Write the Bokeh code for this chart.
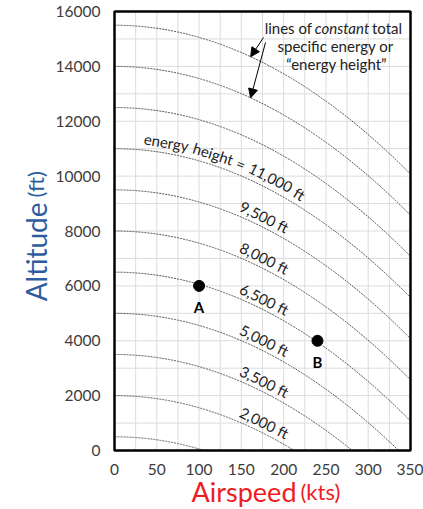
import numpy as np
from bokeh.plotting import figure
from bokeh.models import Label, Arrow, NormalHead, FixedTicker, Range1d, LinearAxis
from bokeh.embed import file_html
from bokeh.resources import INLINE
from bokeh.core.properties import value

# ---------------- data ----------------
energy_heights = [500, 2000, 3500, 5000, 6500, 8000, 9500, 11000, 12500, 14000, 15500]  # ft
airspeed_ticks = [0, 50, 100, 150, 200, 250, 300, 350]
altitude_ticks = [0, 2000, 4000, 6000, 8000, 10000, 12000, 14000, 16000]
airspeed_grid = list(range(0, 351, 25))
altitude_grid = list(range(0, 16001, 1000))
point_names = ["A", "B"]
point_airspeed = [100, 240]
point_altitude = [6000, 4000]
label_heights = [2000, 3500, 5000, 6500, 8000, 9500]
label_texts = ["2,000 ft", "3,500 ft", "5,000 ft", "6,500 ft", "8,000 ft", "9,500 ft"]
label_airspeed = 172
long_label_height = 11000
long_label_words = ["energy", "height", "=", "11,000", "ft"]
note_lines = ["lines of", "constant", "total", "specific energy or", "\u201cenergy height\u201d"]
arrow_target_heights = [15500, 14000]

KT_TO_FPS = 1.68781
G = 32.174
X_MAX, Y_MAX = 350, 16000


def altitude(E, v):
    return E - (np.asarray(v) * KT_TO_FPS) ** 2 / (2 * G)


# ---------------- layout (pixels) ----------------
W, H = 423, 509
BOX_L, BOX_R, BOX_T, BOX_B = 114, 410, 11, 450
ppk = (BOX_R - BOX_L) / X_MAX
ppf = (BOX_B - BOX_T) / Y_MAX


def dx(px):
    return (px - BOX_L) / ppk


def dy(py):
    return (BOX_B - py) / ppf


p = figure(width=W, height=H,
           x_range=Range1d(dx(0), dx(W)), y_range=Range1d(dy(H), dy(0)),
           x_axis_location=None, y_axis_location=None,
           output_backend="svg", toolbar_location=None,
           min_border_left=0, min_border_right=0, min_border_top=0, min_border_bottom=0)
p.outline_line_color = None
p.background_fill_color = "white"
p.border_fill_color = "white"
p.grid.visible = False

# grid
p.segment(x0=airspeed_grid, y0=0, x1=airspeed_grid, y1=Y_MAX, line_color="#dcdcdc", line_width=1)
p.segment(x0=0, y0=altitude_grid, x1=X_MAX, y1=altitude_grid, line_color="#dcdcdc", line_width=1)

# axes (fixed on the box edges)
xa = LinearAxis(fixed_location=0, bounds=(0, X_MAX), ticker=FixedTicker(ticks=airspeed_ticks))
ya = LinearAxis(fixed_location=0, bounds=(0, Y_MAX), ticker=FixedTicker(ticks=altitude_ticks))
for ax in (xa, ya):
    ax.major_tick_line_color = None
    ax.minor_tick_line_color = None
    ax.major_tick_in = 0
    ax.major_tick_out = 0
    ax.axis_line_color = None
    ax.major_label_text_font = "Lato"
    ax.major_label_text_font_size = "15.5px"
    ax.major_label_text_color = "#3c3c3c"
xa.major_label_standoff = 13
ya.major_label_standoff = 14
p.add_layout(xa, "below")
p.add_layout(ya, "left")

# ---------------- curves ----------------
xs, ys = [], []
for E in energy_heights:
    v_end = min(X_MAX, np.sqrt(E * 2 * G) / KT_TO_FPS)
    v = np.linspace(0, v_end, 300)
    xs.append(v)
    ys.append(altitude(E, v))
p.multi_line(xs, ys, line_color="#505050", line_width=1, line_dash="2 1")


def place(E, v, off):
    slope = -(KT_TO_FPS ** 2) * v / G
    theta = np.arctan2(slope * ppf, ppk)
    nx, ny = -np.sin(theta), np.cos(theta)
    return v + nx * off / ppk, float(altitude(E, v)) + ny * off / ppf, theta


# curve labels
lx, ly, la = [], [], []
for E in label_heights:
    x, y, t = place(E, label_airspeed, 10)
    lx.append(x); ly.append(y); la.append(t)
p.text(x=lx, y=ly, text=label_texts, angle=la, text_align="center", text_baseline="middle",
       text_font=value("Lato"), text_font_size="15px", text_color="#222222")

# long label along its curve (word by word)
FS = 15
cw = {"e": .53, "n": .56, "r": .37, "g": .50, "y": .49, "h": .56, "i": .24, "t": .35,
      "=": .58, "1": .58, "0": .58, ",": .22, "f": .32, " ": .26}
vv = np.linspace(0, X_MAX, 3000)
sx = vv * ppk
sy = altitude(long_label_height, vv) * ppf
s = np.concatenate([[0], np.cumsum(np.hypot(np.diff(sx), np.diff(sy)))])
cursor = float(np.interp(33, vv, s))
wx, wy, wa = [], [], []
for w in long_label_words:
    width = sum(cw.get(c, .55) for c in w) * FS
    vc = float(np.interp(cursor + width / 2, s, vv))
    x, y, t = place(long_label_height, vc, 11)
    wx.append(x); wy.append(y); wa.append(t)
    cursor += width + cw[" "] * FS
p.text(x=wx, y=wy, text=long_label_words, angle=wa, text_align="center", text_baseline="middle",
       text_font=value("Lato"), text_font_size=f"{FS}px", text_color="#222222")

# box
p.quad(left=0, right=X_MAX, bottom=0, top=Y_MAX, fill_color=None, line_color="black", line_width=2.5)

# points
p.scatter(point_airspeed, point_altitude, size=11, color="black")
p.text(x=point_airspeed, y=point_altitude, text=point_names, y_offset=21, text_align="center",
       text_baseline="middle", text_font=value("Lato"), text_font_size="15px",
       text_font_style="bold", text_color="black")

# note at top right
common = dict(text_font="Lato", text_font_size="15px", text_color="#222222", text_baseline="middle")
p.add_layout(Label(x=dx(341.5), y=dy(27), text=note_lines[1], text_align="center",
                   text_font_style="italic", **common))
p.add_layout(Label(x=dx(341.5), y=dy(27), text=note_lines[0], text_align="right", x_offset=-30, **common))
p.add_layout(Label(x=dx(341.5), y=dy(27), text=note_lines[2], text_align="left", x_offset=30, **common))
p.add_layout(Label(x=dx(335), y=dy(45), text=note_lines[3], text_align="center", **common))
p.add_layout(Label(x=dx(336), y=dy(63), text=note_lines[4], text_align="center", **common))

# arrows
starts = [(dx(263), dy(37)), (dx(265), dy(42))]
v_tip = 161
for (x0, y0), E in zip(starts, arrow_target_heights):
    p.add_layout(Arrow(x_start=x0, y_start=y0, x_end=v_tip, y_end=float(altitude(E, v_tip)),
                       line_color="black", line_width=1,
                       end=NormalHead(size=9, fill_color="black", line_color="black")))

# axis titles
RED = "#ee1c24"
BLUE = "#2f5c9e"
p.add_layout(Label(x=dx(296), y=dy(491), text="Airspeed", text_align="right",
                   text_baseline="alphabetic", text_font="Lato", text_font_size="27px", text_color=RED))
p.add_layout(Label(x=dx(300), y=dy(491), text="(kts)", text_align="left",
                   text_baseline="alphabetic", text_font="Lato", text_font_size="22px", text_color=RED))
p.add_layout(Label(x=dx(35), y=dy(202), text="Altitude", text_align="right", angle=np.pi / 2,
                   text_baseline="alphabetic", text_font="Lato", text_font_size="28px", text_color=BLUE))
p.add_layout(Label(x=dx(35), y=dy(197), text="(ft)", text_align="left", angle=np.pi / 2,
                   text_baseline="alphabetic", text_font="Lato", text_font_size="22px", text_color=BLUE))

open("out.html", "w").write(file_html(p, INLINE))
